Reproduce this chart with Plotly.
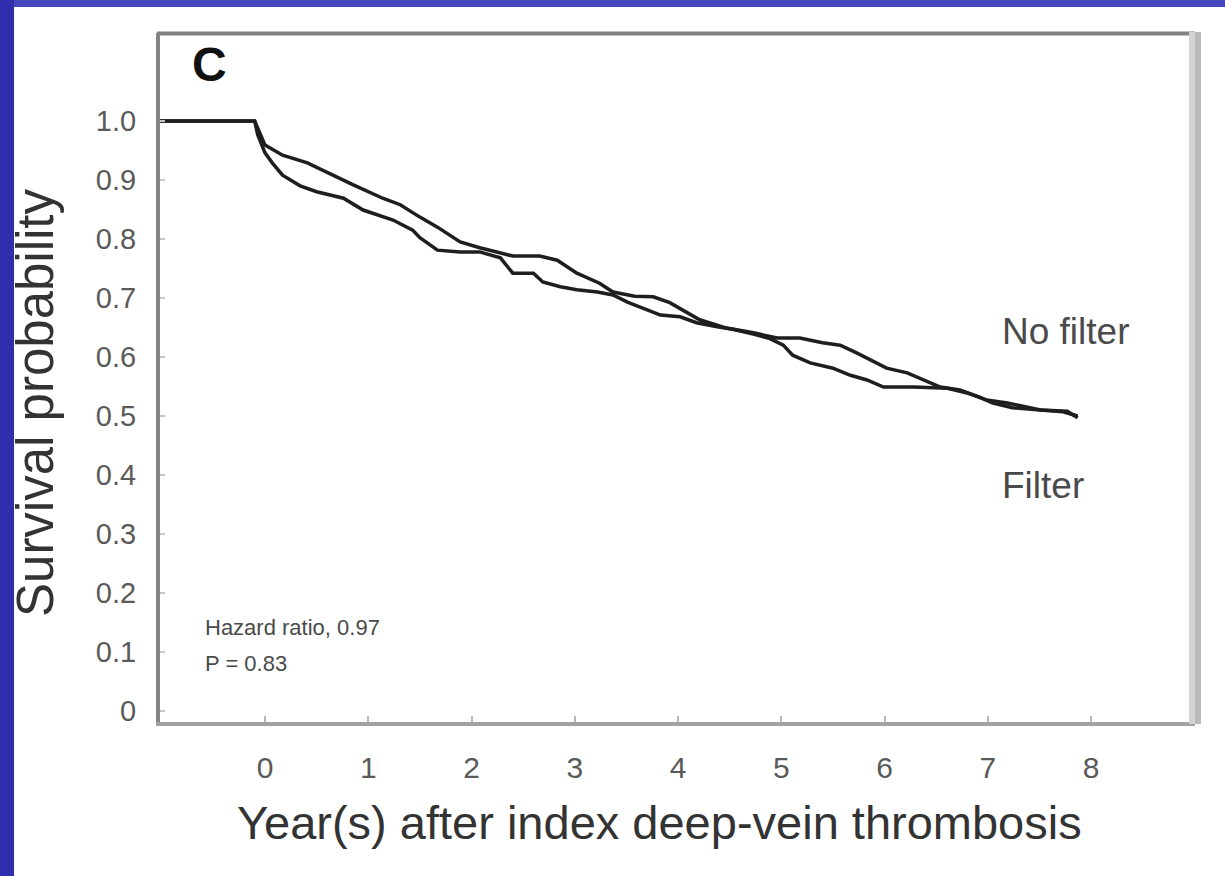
import plotly.graph_objects as go

# ---- data ----
years_a = [-1.02, -0.10, 0.00, 0.17, 0.41, 0.61, 0.85, 1.14, 1.31, 1.50, 1.67, 1.89, 2.08, 2.40, 2.66,
           2.83, 3.02, 3.24, 3.37, 3.58, 3.76, 3.92, 4.21, 4.47, 4.73, 4.96, 5.18, 5.40, 5.57, 5.73,
           5.89, 6.02, 6.22, 6.37, 6.54, 6.73, 6.92, 7.05, 7.24, 7.51, 7.73, 7.87]
surv_a = [1.000, 1.000, 0.959, 0.942, 0.929, 0.912, 0.892, 0.869, 0.858, 0.837, 0.820, 0.795, 0.785, 0.771, 0.771,
          0.764, 0.742, 0.725, 0.710, 0.703, 0.702, 0.692, 0.663, 0.649, 0.641, 0.632, 0.632, 0.624, 0.620, 0.607,
          0.592, 0.581, 0.573, 0.561, 0.549, 0.544, 0.532, 0.522, 0.514, 0.510, 0.507, 0.500]

years_b = [-1.02, -0.10, -0.07, 0.00, 0.07, 0.17, 0.34, 0.50, 0.76, 0.95, 1.24, 1.43, 1.50, 1.67, 1.89, 2.08,
           2.28, 2.40, 2.60, 2.69, 2.86, 3.02, 3.22, 3.37, 3.51, 3.66, 3.83, 4.02, 4.18, 4.38, 4.53, 4.73,
           4.89, 5.02, 5.11, 5.28, 5.50, 5.67, 5.83, 5.99, 6.28, 6.61, 6.80, 6.99, 7.19, 7.51, 7.77, 7.87]
surv_b = [1.000, 1.000, 0.976, 0.946, 0.929, 0.908, 0.890, 0.880, 0.869, 0.849, 0.832, 0.815, 0.802, 0.781, 0.778, 0.778,
          0.768, 0.742, 0.742, 0.727, 0.719, 0.714, 0.710, 0.705, 0.693, 0.683, 0.671, 0.668, 0.658, 0.651, 0.647, 0.639,
          0.631, 0.620, 0.603, 0.590, 0.581, 0.569, 0.561, 0.549, 0.549, 0.547, 0.539, 0.527, 0.522, 0.510, 0.508, 0.497]

x_ticks = [0, 1, 2, 3, 4, 5, 6, 7, 8]
x_tick_labels = ["0", "1", "2", "3", "4", "5", "6", "7", "8"]
y_ticks = [0, 0.1, 0.2, 0.3, 0.4, 0.5, 0.6, 0.7, 0.8, 0.9, 1.0]
y_tick_labels = ["0", "0.1", "0.2", "0.3", "0.4", "0.5", "0.6", "0.7", "0.8", "0.9", "1.0"]

x_title = "Year(s) after index deep-vein thrombosis"
y_title = "Survival probability"
panel_label = "C"
label_no_filter = "No filter"
label_filter = "Filter"
stats_lines = ["Hazard ratio, 0.97", "P = 0.83"]

# ---- layout geometry ----
W, H = 1225, 876
L, R, T, B = 160, 30, 33, 154
PW, PH = W - L - R, H - T - B


def px_x(px):
    return (px - L) / PW


def px_y(py):
    return (H - B - py) / PH


FONT = "Arial, Liberation Sans, sans-serif"
LINE_COLOR = "#1e1e1e"

fig = go.Figure()
fig.add_trace(go.Scatter(x=years_a, y=surv_a, mode="lines", name=label_no_filter,
                         line=dict(color=LINE_COLOR, width=3.5), showlegend=False))
fig.add_trace(go.Scatter(x=years_b, y=surv_b, mode="lines", name=label_filter,
                         line=dict(color=LINE_COLOR, width=3.5), showlegend=False))

shapes = [
    # blue slide background strips
    dict(type="rect", xref="paper", yref="paper", x0=px_x(0), x1=px_x(W), y0=px_y(0), y1=px_y(7),
         fillcolor="#4646bd", line=dict(width=0), layer="below"),
    dict(type="rect", xref="paper", yref="paper", x0=px_x(0), x1=px_x(14), y0=px_y(0), y1=px_y(H),
         fillcolor="#2f2fae", line=dict(width=0), layer="below"),
    # top border
    dict(type="line", xref="paper", yref="paper", x0=px_x(157), x1=px_x(1195), y0=px_y(33.5), y1=px_y(33.5),
         line=dict(color="#828282", width=4)),
    # right border (two tones)
    dict(type="rect", xref="paper", yref="paper", x0=px_x(1189), x1=px_x(1195), y0=px_y(724), y1=px_y(32),
         fillcolor="#d4d4d4", line=dict(width=0)),
    dict(type="rect", xref="paper", yref="paper", x0=px_x(1195), x1=px_x(1201), y0=px_y(724), y1=px_y(32),
         fillcolor="#bababa", line=dict(width=0)),
]

annotations = [
    dict(x=-0.54, y=1.095, xref="x", yref="y", text=f"<b>{panel_label}</b>", showarrow=False,
         xanchor="center", yanchor="middle",
         font=dict(family=FONT, size=48, color="#111111")),
    dict(x=7.12, y=0.644, xref="x", yref="y", text=label_no_filter, showarrow=False,
         xanchor="left", yanchor="middle",
         font=dict(family=FONT, size=37, color="#4a4a4a")),
    dict(x=7.12, y=0.383, xref="x", yref="y", text=label_filter, showarrow=False,
         xanchor="left", yanchor="middle",
         font=dict(family=FONT, size=37, color="#4a4a4a")),
    dict(x=-0.60, y=0.141, xref="x", yref="y", text=stats_lines[0], showarrow=False,
         xanchor="left", yanchor="middle",
         font=dict(family=FONT, size=22, color="#4a4a4a")),
    dict(x=-0.60, y=0.080, xref="x", yref="y", text=stats_lines[1], showarrow=False,
         xanchor="left", yanchor="middle",
         font=dict(family=FONT, size=22, color="#4a4a4a")),
    dict(x=px_x(659), y=px_y(822), xref="paper", yref="paper", text=x_title, showarrow=False,
         xanchor="center", yanchor="middle",
         font=dict(family=FONT, size=47, color="#333333")),
    dict(x=px_x(35), y=px_y(403), xref="paper", yref="paper", text=y_title, showarrow=False, textangle=-90,
         xanchor="center", yanchor="middle",
         font=dict(family=FONT, size=51, color="#333333")),
]

fig.update_layout(
    width=W, height=H,
    margin=dict(l=L, r=R, t=T, b=B, pad=0),
    paper_bgcolor="white", plot_bgcolor="white",
    shapes=shapes, annotations=annotations,
    xaxis=dict(range=[-1.017, 9.007], tickvals=x_ticks, ticktext=x_tick_labels,
               ticks="inside", ticklen=6, tickwidth=2, tickcolor="#b8b8b8",
               showline=True, linecolor="#a2a2a2", linewidth=4,
               showgrid=False, zeroline=False, ticklabelstandoff=16,
               tickfont=dict(family=FONT, size=30, color="#5a5a5a")),
    yaxis=dict(range=[-0.0186, 1.149], tickvals=y_ticks, ticktext=y_tick_labels,
               ticks="inside", ticklen=5, tickwidth=2, tickcolor="#c8c8c8",
               showline=True, linecolor="#848484", linewidth=4,
               showgrid=False, zeroline=False, ticklabelstandoff=14,
               tickfont=dict(family=FONT, size=29, color="#5a5a5a")),
)

fig.write_html("out.html")
